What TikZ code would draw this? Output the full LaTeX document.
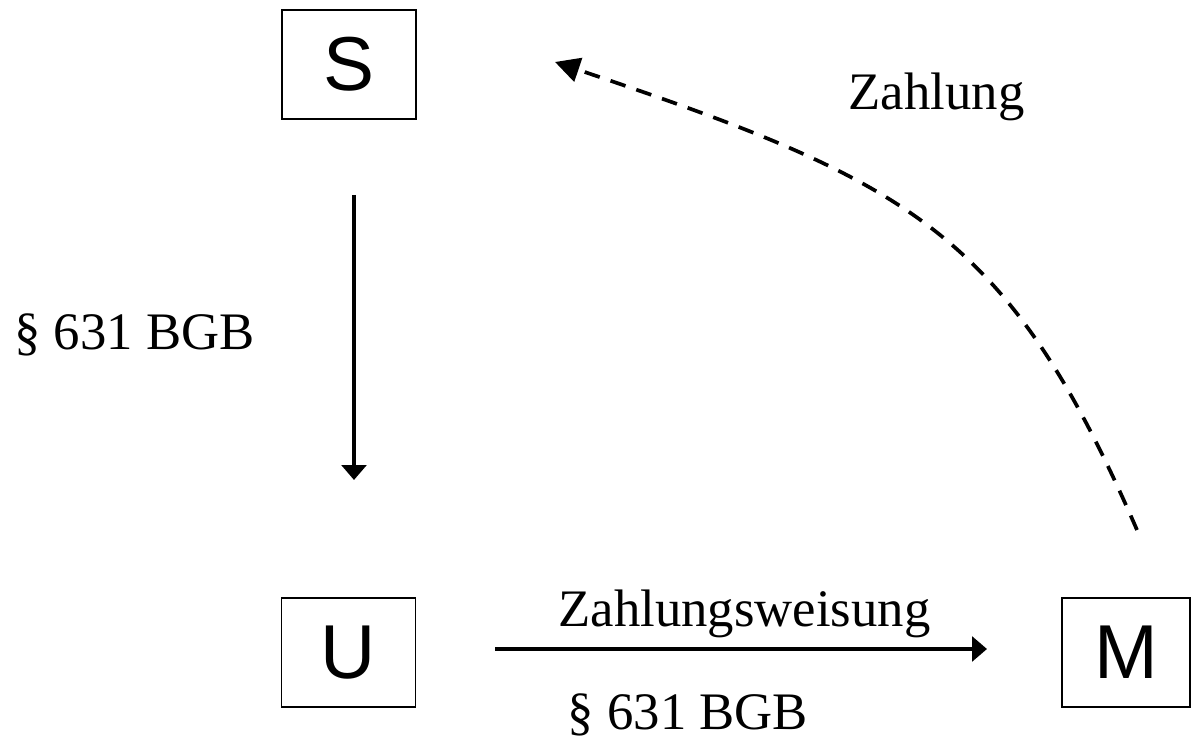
\documentclass[tikz,border=0pt]{standalone}
\usepackage{fontspec}
\setmainfont{Liberation Serif}
\newfontfamily\partyfont{Liberation Sans}
\usetikzlibrary{arrows.meta}
\tikzset{
	party/.style={draw, line width=1.1pt, minimum width=2.68cm, minimum height=2.18cm, inner sep=0pt,
		font=\partyfont\fontsize{43.5}{50}\selectfont},
	lbl/.style={inner sep=0pt, anchor=base, font=\fontsize{30}{36}\selectfont},
	rel/.style={line width=2.1pt, -{Triangle[length=8.5pt,width=14pt]}},
	pay/.style={line width=2.1pt, dash pattern=on 9pt off 6.5pt, -{Triangle[length=14pt,width=14pt]}}
}
\begin{document}
\begin{tikzpicture}
			\useasboundingbox (0,0) rectangle (23.82,14.78);
			% parties
			\node[party] (S) at (6.98,13.49) {S};
			\node[party] (U) at (6.97,1.73) {U};
			\node[party, minimum width=2.56cm] (M) at (22.52,1.73) {M};
			% arrow ends
			\coordinate (su-from) at (7.08,10.88);
			\coordinate (su-to) at (7.08,5.18);
			\coordinate (um-from) at (9.9,1.8);
			\coordinate (um-to) at (19.74,1.8);
			\coordinate (ms-from) at (22.74,4.18);
			\coordinate (ms-to) at (11.1,13.54);
			% S to U
			\draw[rel] (su-from) -- (su-to);
			\node[lbl] (su-law) at (2.69,7.78) {\S\ 631 BGB};
			% U to M
			\draw[rel] (um-from) -- (um-to);
			\node[lbl] (um-name) at (14.89,2.24) {Zahlungsweisung};
			\node[lbl] (um-law) at (13.76,0.2) {\S\ 631 BGB};
			% payment M to S
			\draw[pay] (ms-from) .. controls (20.14,10.16) and (18.22,11.14) .. (ms-to);
			\node[lbl] (ms-name) at (18.73,12.58) {Zahlung};
\end{tikzpicture}
\end{document}
